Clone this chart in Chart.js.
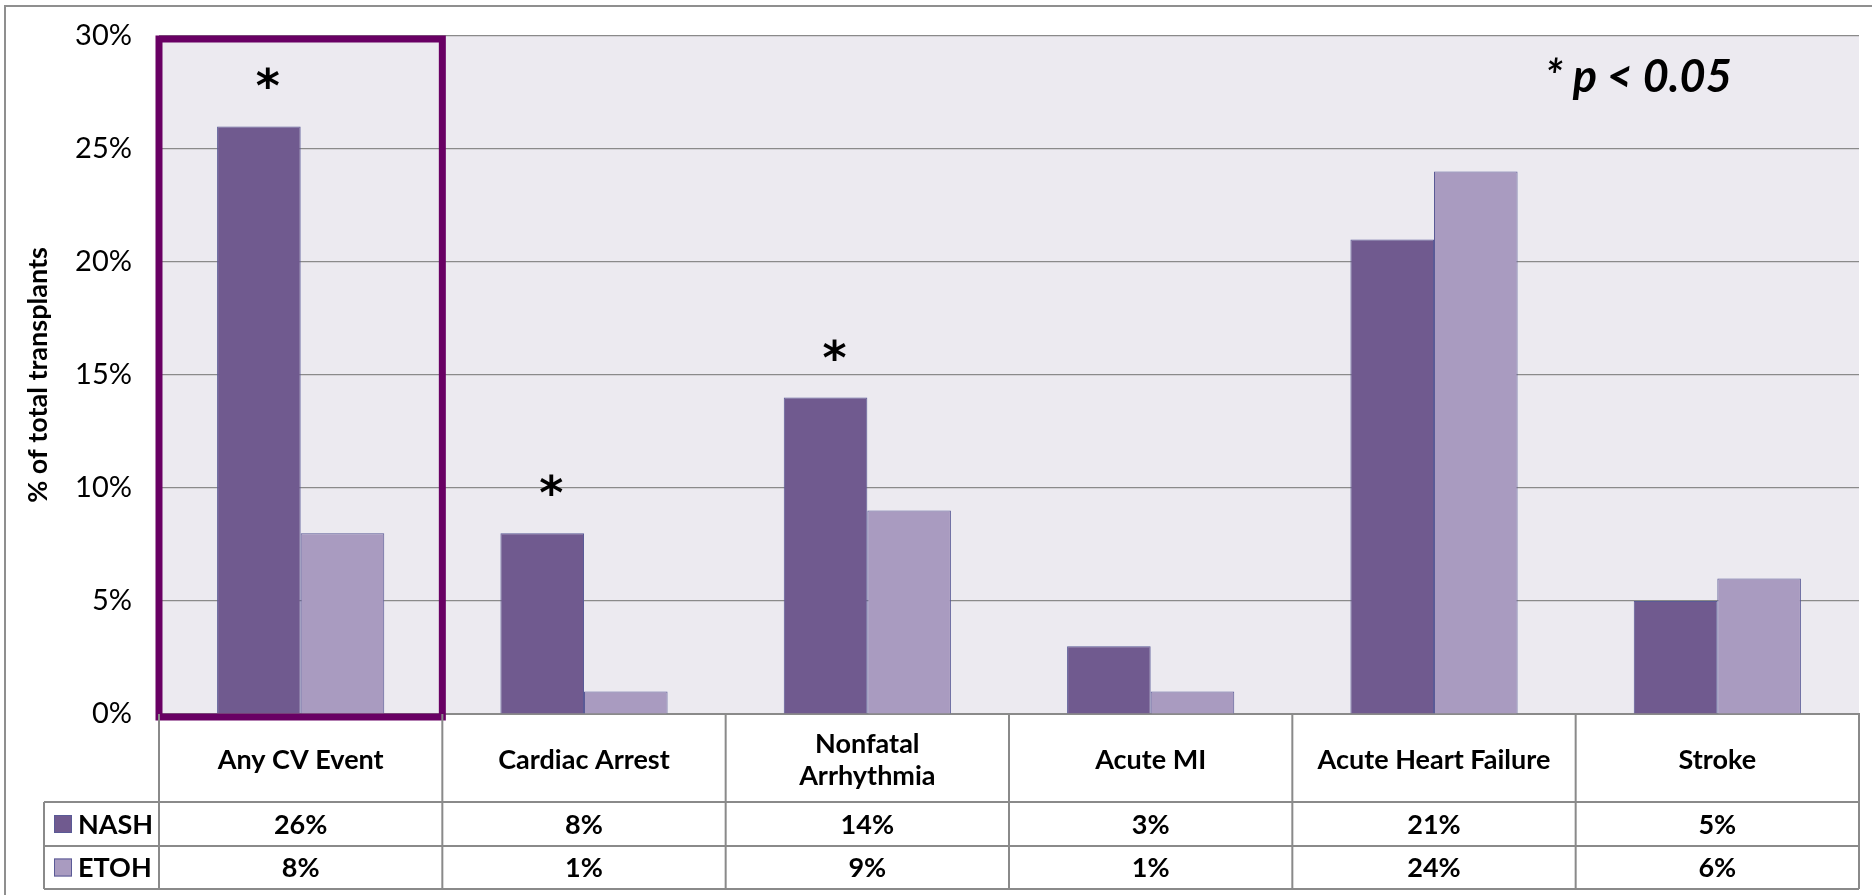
<!DOCTYPE html>
<html>
<head>
<meta charset="utf-8">
<title>CV events after transplant</title>
<script src="https://cdn.jsdelivr.net/npm/chart.js@4.4.1/dist/chart.umd.min.js"></script>
<style>
  body { margin: 0; background: #fff; }
  canvas { display: block; }
</style>
</head>
<body>
<canvas id="cvChart" width="1872" height="895"></canvas>
<script>
// data
const categories = ['Any CV Event', 'Cardiac Arrest', ['Nonfatal', 'Arrhythmia'], 'Acute MI', 'Acute Heart Failure', 'Stroke'];
const seriesNames = ['NASH', 'ETOH'];
const nashValues = [26, 8, 14, 3, 21, 5];
const etohValues = [8, 1, 9, 1, 24, 6];
const significant = [true, true, true, false, false, false];
const yTicks = [0, 5, 10, 15, 20, 25, 30];

const FONT = 'Lato, "Open Sans", sans-serif';
const GRID = '#8a8a8a';

// plot background + outer frame
const backdrop = {
    id: 'backdrop',
    beforeDraw(chart) {
        const { ctx, chartArea: a } = chart;
        ctx.save();
        ctx.fillStyle = '#ECEAF0';
        ctx.fillRect(a.left, a.top, a.right - a.left, a.bottom - a.top);
        ctx.strokeStyle = '#8f8f8f';
        ctx.lineWidth = 2;
        ctx.beginPath();
        ctx.moveTo(5, chart.height);
        ctx.lineTo(5, 6);
        ctx.lineTo(chart.width, 6);
        ctx.stroke();
        ctx.restore();
    }
};

// draw a glyph with its visible centre at (x, y)
function centredGlyph(ctx, ch, x, y) {
    ctx.textBaseline = 'alphabetic';
    const m = ctx.measureText(ch);
    const off = (m.actualBoundingBoxAscent - m.actualBoundingBoxDescent) / 2;
    ctx.fillText(ch, x, y + off);
}

// asterisks, highlight box and the "p" note
const marks = {
    id: 'marks',
    afterDatasetsDraw(chart) {
        const { ctx, chartArea: a } = chart;
        const x = chart.scales.x, y = chart.scales.y;
        const colW = (a.right - a.left) / categories.length;
        const bars = chart.getDatasetMeta(0).data;

        ctx.save();
        ctx.fillStyle = '#000';
        ctx.textAlign = 'center';
        ctx.font = 'bold 46px "DejaVu Sans", sans-serif';
        significant.forEach((s, i) => {
            if (!s) return;
            centredGlyph(ctx, '*', bars[i].x + 9, bars[i].y - 48);
        });

        // box round the first group
        ctx.strokeStyle = '#690064';
        ctx.lineWidth = 7;
        const l = x.getPixelForValue(0) - colW / 2;
        const r = x.getPixelForValue(0) + colW / 2;
        ctx.strokeRect(l, y.getPixelForValue(30) + 3, r - l, y.getPixelForValue(0) - y.getPixelForValue(30));

        ctx.textAlign = 'left';
        ctx.textBaseline = 'middle';
        ctx.font = 'italic bold 45px ' + FONT;
        ctx.fillText('* p < 0.05', 1545, 77);
        ctx.restore();
    }
};

// data table under the axis
const dataTable = {
    id: 'dataTable',
    afterDraw(chart) {
        const { ctx, chartArea: a } = chart;
        const x = chart.scales.x;
        const colW = (a.right - a.left) / categories.length;
        const top = a.bottom, r1 = top + 88, r2 = r1 + 44, r3 = r2 + 43;
        const legendLeft = 44;

        ctx.save();
        ctx.strokeStyle = GRID;
        ctx.lineWidth = 2;
        ctx.beginPath();
        [r1, r2, r3].forEach(yy => { ctx.moveTo(legendLeft, yy); ctx.lineTo(a.right, yy); });
        ctx.moveTo(legendLeft, r1); ctx.lineTo(legendLeft, r3);
        for (let i = 0; i <= categories.length; i++) {
            const xx = a.left + i * colW;
            ctx.moveTo(xx, top); ctx.lineTo(xx, r3);
        }
        ctx.stroke();

        ctx.fillStyle = '#000';
        ctx.font = 'bold 27px ' + FONT;
        ctx.textBaseline = 'middle';
        ctx.textAlign = 'center';
        const rows = [[nashValues, (r1 + r2) / 2], [etohValues, (r2 + r3) / 2]];
        rows.forEach(([vals, cy]) => {
            vals.forEach((v, i) => ctx.fillText(v + '%', x.getPixelForValue(i), cy + 1));
        });

        // legend keys
        ctx.textAlign = 'left';
        chart.data.datasets.forEach((ds, k) => {
            const cy = rows[k][1];
            ctx.fillStyle = ds.backgroundColor;
            ctx.fillRect(54, cy - 9, 18, 18);
            ctx.strokeStyle = ds.borderColor;
            ctx.lineWidth = 1;
            ctx.strokeRect(54.5, cy - 8.5, 17, 17);
            ctx.fillStyle = '#000';
            ctx.fillText(ds.label, 78, cy + 1);
        });
        ctx.restore();
    }
};

new Chart(document.getElementById('cvChart'), {
    type: 'bar',
    data: {
        labels: categories,
        datasets: [
            {
                label: seriesNames[0],
                data: nashValues,
                backgroundColor: '#705A8F',
                borderColor: '#5a5a96',
                borderWidth: 1
            },
            {
                label: seriesNames[1],
                data: etohValues,
                backgroundColor: '#A99BC0',
                borderColor: '#5a5a96',
                borderWidth: 1
            }
        ]
    },
    options: {
        responsive: false,
        animation: false,
        layout: { padding: { left: 0, top: 36, right: 13, bottom: 6 } },
        categoryPercentage: 0.59,
        barPercentage: 1.0,
        plugins: {
            legend: { display: false },
            tooltip: { enabled: false }
        },
        scales: {
            x: {
                grid: { display: false, drawTicks: false },
                border: { display: true, color: GRID, width: 2 },
                ticks: {
                    color: '#000',
                    font: { family: FONT, size: 27, weight: 'bold' },
                    padding: 30,
                    crossAlign: 'center',
                    maxRotation: 0,
                    autoSkip: false
                },
                afterFit(scale) { scale.height = 175; }
            },
            y: {
                min: 0,
                max: 30,
                afterBuildTicks(scale) { scale.ticks = yTicks.map(v => ({ value: v })); },
                grid: { color: GRID, lineWidth: 1.2, drawTicks: false },
                border: { display: false },
                ticks: {
                    color: '#000',
                    font: { family: FONT, size: 29 },
                    padding: 27,
                    callback: v => v + '%'
                },
                title: {
                    display: true,
                    text: '% of total transplants',
                    color: '#000',
                    font: { family: FONT, size: 27, weight: 'bold' },
                    padding: { top: 22, bottom: 0 }
                },
                afterFit(scale) {
                    scale.width = 159;
                    // keep the plot top fixed by the layout padding
                    scale.paddingTop = 0;
                    scale.paddingBottom = 0;
                }
            }
        }
    },
    plugins: [backdrop, marks, dataTable]
});
</script>
</body>
</html>
